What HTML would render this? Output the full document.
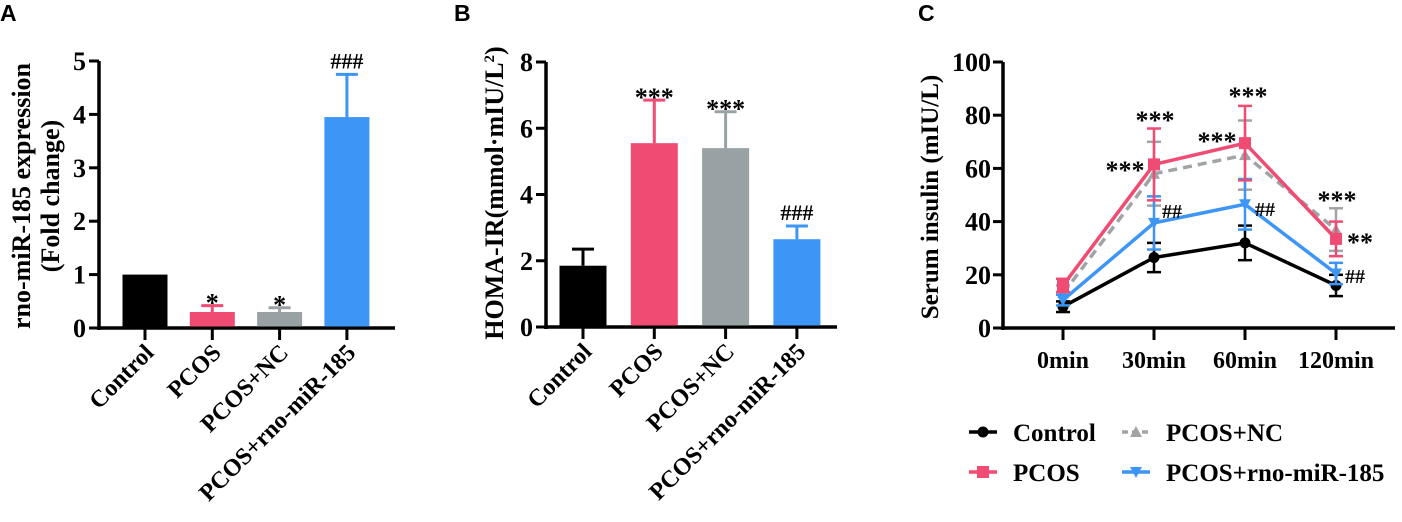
<!DOCTYPE html>
<html><head><meta charset="utf-8"><style>
html,body{margin:0;padding:0;background:#fff;}
svg{display:block;font-family:"Liberation Serif",serif;font-weight:bold;}
.pl{font-family:"Liberation Sans",sans-serif;font-weight:bold;font-size:23px;}
</style></head><body>
<svg id="fig" width="1402" height="522" viewBox="0 0 1402 522">
<text class="pl" x="0" y="21">A</text>
<text class="pl" x="454" y="21">B</text>
<text class="pl" x="918" y="21">C</text>
<g id="pa"></g>
<g id="pb"></g>
<g id="pc"></g>
</svg>
<script>
const barGroups = ["Control","PCOS","PCOS+NC","PCOS+rno-miR-185"];
const aValues = [1.0, 0.3, 0.3, 3.95];
const aErrors = [0, 0.12, 0.08, 0.8];
const aMarks = ["", "*", "*", "###"];
const aTicks = [0,1,2,3,4,5];
const bValues = [1.85, 5.55, 5.4, 2.65];
const bErrors = [0.5, 1.3, 1.1, 0.4];
const bMarks = ["", "***", "***", "###"];
const bTicks = [0,2,4,6,8];
const barColors = ["#000000","#ef4b73","#98a2a5","#3d95f5"];
const timeLabels = ["0min","30min","60min","120min"];
const cTicks = [0,20,40,60,80,100];
const ctrlMean = [8, 26.5, 32, 16];
const ctrlErr = [2, 5.5, 6.5, 4];
const pcosMean = [16, 61.5, 69.5, 33.5];
const pcosErr = [2.5, 13.5, 14, 6.5];
const ncMean = [13, 58, 65, 37];
const ncErr = [3, 12, 13, 8];
const mirMean = [10.5, 39.5, 46.5, 20.5];
const mirErr = [2, 10, 9.5, 4];

const NS="http://www.w3.org/2000/svg";
function mk(parent, tag, attrs, text){
  const e=document.createElementNS(NS,tag);
  for(const k in attrs) e.setAttribute(k,attrs[k]);
  if(text!==undefined) e.textContent=text;
  parent.appendChild(e); return e;
}

function barPanel(g, cfg){
  const y = v => cfg.y0 - (v/cfg.max)*(cfg.y0-cfg.yTop);
  const x = i => cfg.x0 + i*cfg.step;
  let e = mk(g,'line',{x1:cfg.ax,y1:cfg.yTop,x2:cfg.ax,y2:cfg.y0+2,stroke:'#000','stroke-width':3.5});
   
  e = mk(g,'line',{x1:cfg.ax-2,y1:cfg.y0,x2:cfg.axEnd,y2:cfg.y0,stroke:'#000','stroke-width':3.5});
   
  cfg.ticks.forEach(t=>{
    mk(g,'line',{x1:cfg.ax-10,y1:y(t),x2:cfg.ax,y2:y(t),stroke:'#000','stroke-width':3});
    e = mk(g,'text',{x:cfg.ax-13,y:y(t)+9,'text-anchor':'end','font-size':26},t);
     
  });
  cfg.values.forEach((v,i)=>{
    const cx=x(i), col=barColors[i];
    mk(g,'line',{x1:cx,y1:cfg.y0,x2:cx,y2:cfg.y0+12,stroke:'#000','stroke-width':3});
    if(cfg.errors[i]>0){
      const ye=y(v+cfg.errors[i]);
      mk(g,'line',{x1:cx,y1:y(v),x2:cx,y2:ye,stroke:col,'stroke-width':3});
      mk(g,'line',{x1:cx-11,y1:ye,x2:cx+11,y2:ye,stroke:col,'stroke-width':3});
    }
    e = mk(g,'rect',{x:cx-cfg.bw/2,y:y(v),width:cfg.bw,height:cfg.y0-y(v)-1.5,fill:col});
     
    if(cfg.marks[i]){
      const star=cfg.marks[i][0]=='*';
      const my=y(v+cfg.errors[i])-6;
      e = mk(g,'text',{x:cx,y:my+(star?12:0),'text-anchor':'middle','font-size':star?26:22},cfg.marks[i]);
       
    }
    e = mk(g,'text',{x:0,y:0,'text-anchor':'end','font-size':24,transform:`translate(${cx+10},${cfg.y0+26}) rotate(-45)`},barGroups[i]);
     
  });
}

barPanel(document.getElementById('pa'),{ax:99,axEnd:395,y0:328,yTop:61,max:5,x0:145,step:67.3,bw:45,ticks:aTicks,values:aValues,errors:aErrors,marks:aMarks});
barPanel(document.getElementById('pb'),{ax:546,axEnd:837,y0:327,yTop:62,max:8,x0:583,step:71.3,bw:47,ticks:bTicks,values:bValues,errors:bErrors,marks:bMarks});

let t;
const pa=document.getElementById('pa');
t=mk(pa,'text',{transform:'translate(30,196) rotate(-90)','text-anchor':'middle','font-size':26},'rno-miR-185 expression');
 
t=mk(pa,'text',{transform:'translate(59,196) rotate(-90)','text-anchor':'middle','font-size':26},'(Fold change)');
 
const pb=document.getElementById('pb');
t=mk(pb,'text',{transform:'translate(503,193) rotate(-90)','text-anchor':'middle','font-size':26},'');
 
t.textContent='HOMA-IR(mmol·mIU/L';
mk(t,'tspan',{dy:-9,'font-size':15},'2');
mk(t,'tspan',{dy:9},')');

// Panel C
const pc=document.getElementById('pc');
const cx0=1063, cstep=91, cy0=328, cyTop=62;
const X=i=>cx0+i*cstep, Y=v=>cy0-(v/100)*(cy0-cyTop);
t=mk(pc,'line',{x1:1003,y1:cyTop,x2:1003,y2:cy0+2,stroke:'#000','stroke-width':3.5});
 
t=mk(pc,'line',{x1:1001,y1:cy0,x2:1395,y2:cy0,stroke:'#000','stroke-width':3.5});
 
cTicks.forEach(v=>{
  mk(pc,'line',{x1:993,y1:Y(v),x2:1003,y2:Y(v),stroke:'#000','stroke-width':3});
  t=mk(pc,'text',{x:991,y:Y(v)+9,'text-anchor':'end','font-size':26},v);
   
});
timeLabels.forEach((l,i)=>{
  mk(pc,'line',{x1:X(i),y1:cy0,x2:X(i),y2:cy0+12,stroke:'#000','stroke-width':3});
  t=mk(pc,'text',{x:X(i),y:cy0+40,'text-anchor':'middle','font-size':24},l);
   
});
t=mk(pc,'text',{transform:'translate(938,197) rotate(-90)','text-anchor':'middle','font-size':25},'Serum insulin (mIU/L)');
 

const series=[
  {name:'pcos-nc',m:ncMean,e:ncErr,c:'#a0a4a6',dash:'9,6',mk:'tri'},
  {name:'control',m:ctrlMean,e:ctrlErr,c:'#000000',dash:'',mk:'circle'},
  {name:'rno-mir-185',m:mirMean,e:mirErr,c:'#3d95f5',dash:'',mk:'tridown'},
  {name:'pcos',m:pcosMean,e:pcosErr,c:'#ef4b73',dash:'',mk:'square'},
];
function marker(g,type,x,y,c){
  if(type=='circle') return mk(g,'circle',{cx:x,cy:y,r:5.5,fill:c});
  if(type=='square') return mk(g,'rect',{x:x-6,y:y-6,width:12,height:12,fill:c});
  if(type=='tri') return mk(g,'path',{d:`M${x},${y-6}L${x+6},${y+5}L${x-6},${y+5}Z`,fill:c});
  return mk(g,'path',{d:`M${x-6},${y-5}L${x+6},${y-5}L${x},${y+6}Z`,fill:c});
}
series.forEach(s=>{
  const g=mk(pc,'g',{});
   
  s.m.forEach((v,i)=>{
    const a=Y(v+s.e[i]), b=Y(v-s.e[i]);
    mk(g,'line',{x1:X(i),y1:a,x2:X(i),y2:b,stroke:s.c,'stroke-width':2.5});
    mk(g,'line',{x1:X(i)-7,y1:a,x2:X(i)+7,y2:a,stroke:s.c,'stroke-width':2.5});
    mk(g,'line',{x1:X(i)-7,y1:b,x2:X(i)+7,y2:b,stroke:s.c,'stroke-width':2.5});
  });
  const l=mk(g,'polyline',{points:s.m.map((v,i)=>X(i)+','+Y(v)).join(' '),fill:'none',stroke:s.c,'stroke-width':3.5,'stroke-dasharray':s.dash});
   
  s.m.forEach((v,i)=>{
    const p=marker(g,s.mk,X(i),Y(v),s.c);
     
  });
});
const ann=[[1125,179,'***',26],[1155,129,'***',26],[1217,150,'***',26],[1248,105,'***',26],[1337,209,'***',26],[1360,251,'**',26],[1172,218,'##',20],[1265,216,'##',20],[1355,283,'##',20]];
ann.forEach(a=>{
  t=mk(pc,'text',{x:a[0],y:a[1],'text-anchor':'middle','font-size':a[3]},a[2]);
   
});
// legend
const leg=[['Control','#000','circle','',969,432],['PCOS','#ef4b73','square','',969,472],['PCOS+NC','#a0a4a6','tri','6,4',1122,432],['PCOS+rno-miR-185','#3d95f5','tridown','',1122,472]];
leg.forEach(l=>{
  const g=mk(pc,'g',{});
   
  mk(g,'line',{x1:l[4],y1:l[5],x2:l[4]+28,y2:l[5],stroke:l[1],'stroke-width':3.5,'stroke-dasharray':l[3]});
  marker(g,l[2],l[4]+14,l[5],l[1]);
  mk(g,'text',{x:l[4]+44,y:l[5]+9,'font-size':25},l[0]);
});
</script>
</body></html>
